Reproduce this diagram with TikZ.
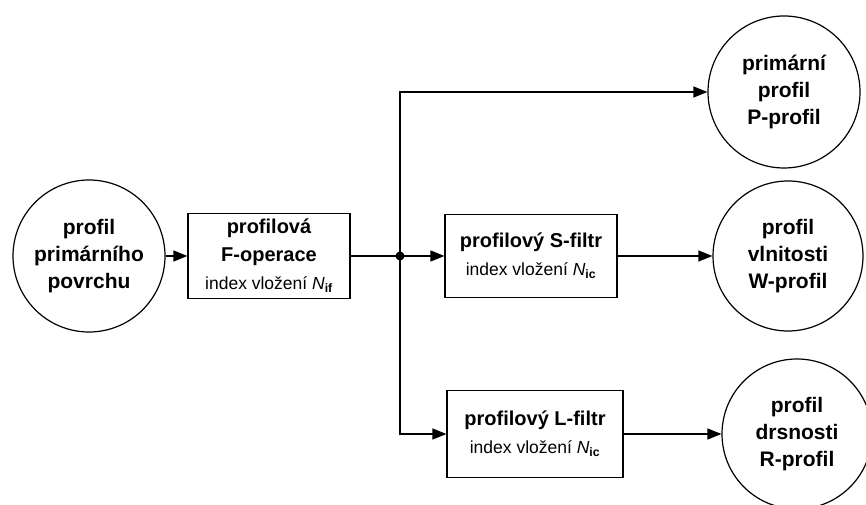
\documentclass[tikz,border=0pt]{standalone}
\usepackage{fontspec}
\setmainfont{Liberation Sans}
\usetikzlibrary{arrows.meta, positioning}
\newcommand{\vlozeni}[1]{{\fontsize{17.5}{22}\selectfont\mdseries index vložení {\itshape N}\textsubscript{\bfseries #1}}}

\begin{document}
\begin{tikzpicture}[x=1pt,y=1pt,
    profil/.style={circle,draw,line width=1.2pt,minimum size=152pt,inner sep=0pt,align=center,font=\fontsize{21}{27}\selectfont\bfseries},
    blok/.style={rectangle,draw,line width=1.2pt,inner sep=0pt,align=center,font=\fontsize{20}{28}\selectfont\bfseries},
    spoj/.style={line width=1.2pt},
    sipka/.style={spoj,-{Triangle[length=14pt,width=11pt]}}]
    \useasboundingbox (0,0) rectangle (866,505);

    % Vstupni profil a F-operace
    \node[profil] (vstup) at (89,249) {profil\\primárního\\povrchu};
    \node[blok,minimum width=162pt,minimum height=85pt] (foper) at (269,249) {profilová\\F-operace\\\vlozeni{if}};

    % Uzel rozvetveni
    \node[circle,fill,inner sep=0pt,minimum size=9pt] (uzel) at (400,249) {};

    % Filtry
    \node[blok,minimum width=172pt,minimum height=83pt] (sfiltr) at (531,249) {profilový S-filtr\\\vlozeni{ic}};
    \node[blok,minimum width=176pt,minimum height=87pt] (lfiltr) at (535,71) {profilový L-filtr\\\vlozeni{ic}};

    % Vystupni profily
    \node[profil] (pprofil) at (784,413) {primární\\profil\\P-profil};
    \node[profil,minimum size=150pt] (wprofil) at (788,249) {profil\\vlnitosti\\W-profil};
    \node[profil,minimum size=150pt] (rprofil) at (797,71) {profil\\drsnosti\\R-profil};

    % Spojeni
    \draw[sipka] (vstup) -- (foper);
    \draw[spoj] (foper) -- (uzel.center);
    \draw[sipka] (uzel.center) -- (sfiltr);
    \draw[sipka] (uzel.center) |- (pprofil.west);
    \draw[sipka] (uzel.center) |- (lfiltr.west);
    \draw[sipka] (sfiltr) -- (wprofil);
    \draw[sipka] (lfiltr) -- (rprofil);
\end{tikzpicture}
\end{document}
